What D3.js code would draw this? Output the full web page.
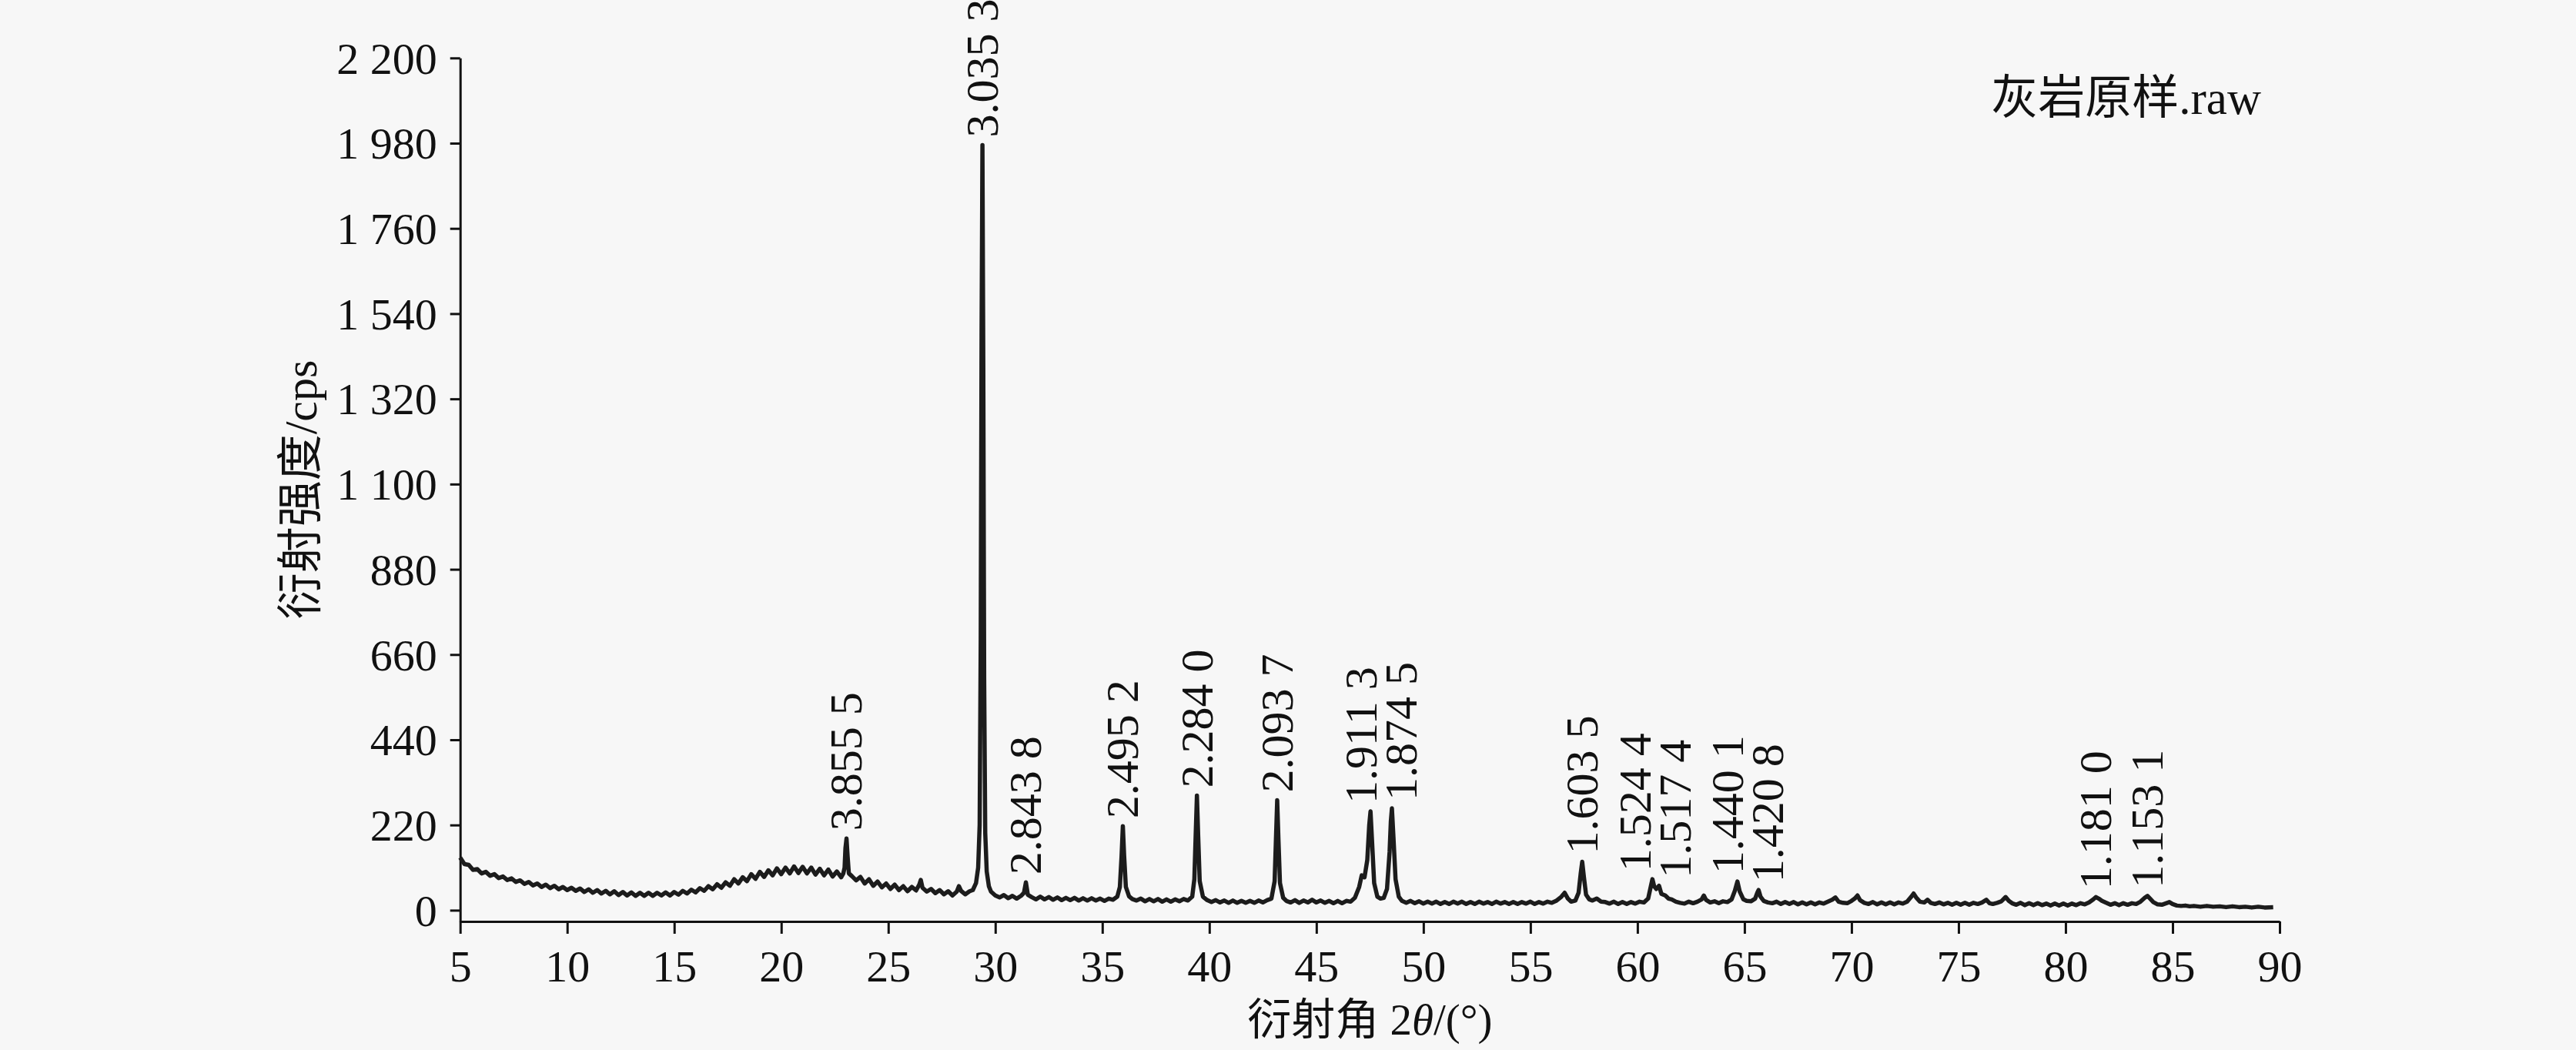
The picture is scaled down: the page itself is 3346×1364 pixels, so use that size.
<!DOCTYPE html>
<html>
<head>
<meta charset="utf-8">
<script src="https://cdn.jsdelivr.net/npm/d3@7"></script>
<style>
  body { margin: 0; background: #f7f7f7; }
  svg { display: block; }
  text { fill: #111; }
</style>
</head>
<body>
<script>
// XRD scan of the limestone sample: [2theta, counts]
var scan = [
  [5.0,136],[5.2,119],[5.4,117],[5.6,104],[5.8,106],[6.0,95],[6.2,99],[6.4,89],[6.6,93],[6.8,83],
  [7.0,87],[7.2,78],[7.4,82],[7.6,73],[7.8,77],[8.0,68],[8.2,73],[8.4,64],[8.6,69],[8.8,60],
  [9.0,66],[9.2,57],[9.4,63],[9.6,54],[9.8,60],[10.0,52],[10.2,58],[10.4,50],[10.6,56],[10.8,47],
  [11.0,54],[11.2,45],[11.4,52],[11.6,43],[11.8,50],[12.0,41],[12.2,49],[12.4,39],[12.6,47],[12.8,38],
  [13.0,46],[13.2,37],[13.4,45],[13.6,37],[13.8,45],[14.0,37],[14.2,45],[14.4,38],[14.6,46],[14.8,38],
  [15.0,47],[15.2,40],[15.4,50],[15.6,43],[15.8,53],[16.0,46],[16.2,57],[16.4,50],[16.6,62],[16.8,54],
  [17.0,67],[17.2,58],[17.4,72],[17.6,63],[17.8,80],[18.0,69],[18.2,85],[18.4,75],[18.6,93],[18.8,81],
  [19.0,99],[19.2,86],[19.4,103],[19.6,90],[19.8,108],[20.0,93],[20.2,110],[20.4,95],[20.6,113],[20.8,96],
  [21.0,112],[21.2,95],[21.4,110],[21.6,92],[21.8,107],[22.0,90],[22.2,105],[22.4,87],[22.6,100],[22.8,85],
  [22.9,95],[22.96,110],[23.0,160],[23.05,185],[23.1,140],[23.16,95],[23.3,88],[23.5,77],[23.7,86],[23.9,69],
  [24.1,80],[24.3,63],[24.5,74],[24.7,59],[24.9,69],[25.1,55],[25.3,66],[25.5,52],[25.7,62],[25.9,49],
  [26.1,60],[26.3,51],[26.45,66],[26.52,78],[26.6,58],[26.8,48],[27.0,55],[27.2,44],[27.4,52],[27.6,41],
  [27.8,49],[28.0,38],[28.2,48],[28.3,62],[28.4,50],[28.6,41],[28.8,49],[28.95,52],[29.1,70],[29.2,110],
  [29.27,220],[29.32,700],[29.36,1500],[29.40,1975],[29.44,1400],[29.48,600],[29.53,200],[29.6,100],[29.7,62],[29.8,48],
  [30.0,38],[30.2,33],[30.4,39],[30.6,31],[30.8,37],[31.0,30],[31.2,37],[31.34,45],[31.43,72],[31.52,40],
  [31.7,34],[31.9,28],[32.1,35],[32.3,28],[32.5,34],[32.7,27],[32.9,33],[33.1,26],[33.3,32],[33.5,26],
  [33.7,32],[33.9,25],[34.1,31],[34.3,25],[34.5,31],[34.7,25],[34.9,30],[35.1,24],[35.3,30],[35.5,27],
  [35.7,35],[35.82,60],[35.9,140],[35.96,217],[36.02,140],[36.1,60],[36.25,36],[36.4,29],[36.6,25],[36.8,30],
  [37.0,23],[37.2,29],[37.4,23],[37.6,29],[37.8,22],[38.0,28],[38.2,22],[38.4,28],[38.6,23],[38.8,29],
  [39.0,25],[39.2,35],[39.3,80],[39.36,190],[39.42,296],[39.48,190],[39.55,75],[39.7,35],[39.9,26],[40.1,21],
  [40.3,26],[40.5,20],[40.7,25],[40.9,19],[41.1,25],[41.3,19],[41.5,24],[41.7,19],[41.9,24],[42.1,19],
  [42.3,25],[42.5,20],[42.7,26],[42.9,30],[43.05,75],[43.11,180],[43.17,284],[43.23,180],[43.3,70],[43.45,32],
  [43.6,24],[43.8,20],[44.0,26],[44.2,19],[44.4,25],[44.6,20],[44.8,27],[45.0,20],[45.2,25],[45.4,19],
  [45.6,24],[45.8,18],[46.0,24],[46.2,18],[46.4,24],[46.6,22],[46.8,32],[47.0,60],[47.12,90],[47.25,85],
  [47.38,130],[47.47,220],[47.53,255],[47.6,180],[47.7,70],[47.85,35],[48.0,30],[48.15,32],[48.3,55],[48.42,150],
  [48.48,230],[48.53,263],[48.6,190],[48.7,80],[48.85,35],[49.0,24],[49.2,19],[49.4,24],[49.6,18],[49.8,23],
  [50.0,17],[50.2,22],[50.4,17],[50.6,22],[50.8,16],[51.0,21],[51.2,16],[51.4,22],[51.6,17],[51.8,22],
  [52.0,16],[52.2,21],[52.4,16],[52.6,22],[52.8,17],[53.0,21],[53.2,16],[53.4,22],[53.6,17],[53.8,21],
  [54.0,16],[54.2,21],[54.4,16],[54.6,21],[54.8,17],[55.0,22],[55.2,16],[55.4,21],[55.6,17],[55.8,22],
  [56.0,19],[56.2,24],[56.45,35],[56.6,45],[56.75,30],[56.9,22],[57.1,25],[57.25,45],[57.35,95],[57.42,125],
  [57.5,85],[57.6,40],[57.75,28],[57.9,25],[58.1,30],[58.3,22],[58.5,21],[58.7,17],[58.9,22],[59.1,16],
  [59.3,21],[59.5,16],[59.7,21],[59.9,17],[60.1,22],[60.3,20],[60.5,30],[60.62,60],[60.7,80],[60.78,62],
  [60.88,55],[61.01,63],[61.12,42],[61.3,38],[61.45,30],[61.6,28],[61.8,22],[62.0,19],[62.2,17],[62.4,22],
  [62.6,18],[62.8,22],[63.0,28],[63.1,38],[63.2,27],[63.4,20],[63.6,23],[63.8,18],[64.0,23],[64.2,21],
  [64.4,28],[64.55,50],[64.67,74],[64.78,48],[64.95,28],[65.1,24],[65.3,23],[65.5,30],[65.6,45],[65.66,52],
  [65.75,35],[65.9,24],[66.1,20],[66.3,18],[66.5,22],[66.7,16],[66.9,21],[67.1,16],[67.3,21],[67.5,15],
  [67.7,20],[67.9,15],[68.1,20],[68.3,15],[68.5,20],[68.7,17],[68.9,22],[69.1,27],[69.25,33],[69.4,22],
  [69.6,19],[69.8,18],[70.0,24],[70.15,30],[70.28,38],[70.4,26],[70.6,19],[70.8,16],[71.0,21],[71.2,15],
  [71.4,20],[71.6,15],[71.8,20],[72.0,15],[72.2,20],[72.4,17],[72.6,22],[72.78,34],[72.9,43],[73.02,33],
  [73.2,22],[73.4,20],[73.55,27],[73.7,19],[73.9,16],[74.1,20],[74.3,15],[74.5,19],[74.7,14],[74.9,19],
  [75.1,14],[75.3,19],[75.5,14],[75.7,19],[75.9,16],[76.1,20],[76.3,27],[76.45,18],[76.6,16],[76.8,19],
  [77.0,23],[77.2,34],[77.35,24],[77.5,18],[77.7,14],[77.9,19],[78.1,13],[78.3,18],[78.5,13],[78.7,18],
  [78.9,13],[79.1,17],[79.3,12],[79.5,17],[79.7,12],[79.9,17],[80.1,12],[80.3,17],[80.5,13],[80.7,18],
  [80.9,15],[81.1,20],[81.3,28],[81.42,34],[81.55,30],[81.7,24],[81.9,19],[82.1,14],[82.3,18],[82.5,13],
  [82.7,18],[82.9,14],[83.1,18],[83.3,16],[83.5,22],[83.7,32],[83.83,37],[83.95,30],[84.1,21],[84.3,15],
  [84.5,14],[84.7,18],[84.85,21],[85.0,16],[85.2,12],[85.4,11],[85.6,12],[85.8,10],[86.0,11],[86.3,9],
  [86.6,11],[86.9,9],[87.2,10],[87.5,8],[87.8,10],[88.1,8],[88.4,9],[88.7,7],[89.0,9],[89.3,7],[89.7,8]
];

// marked reflections: d-spacing label and its 2theta
var peakLabels = ["3.855 5","3.035 3","2.843 8","2.495 2","2.284 0","2.093 7","1.911 3","1.874 5",
                  "1.603 5","1.524 4","1.517 4","1.440 1","1.420 8","1.181 0","1.153 1"];
var peakAngles = [23.05, 29.40, 31.43, 35.96, 39.42, 43.17, 47.53, 48.53,
                  57.42, 60.70, 61.01, 64.67, 65.66, 81.42, 83.83];

var xTicks = d3.range(5, 91, 5);
var yTicks = d3.range(0, 2201, 220);

var sampleName = "灰岩原样.raw";
var yTitle = "衍射强度/cps";

var width = 3346, height = 1364;
var serif = "'Liberation Serif', 'Times New Roman', 'Noto Sans CJK SC', serif";

var x = d3.scaleLinear().domain([5, 90]).range([597.7, 2961]);
var y = d3.scaleLinear().domain([-29, 2200]).range([1197, 75.3]);

var svg = d3.select('body').append('svg')
  .attr('width', width)
  .attr('height', height)
  .style('font-family', serif);

// axes
var xAxis = svg.append('g')
  .attr('transform', 'translate(0,' + y(-29) + ')')
  .call(d3.axisBottom(x).tickValues(xTicks).tickSize(16).tickSizeOuter(0));

xAxis.selectAll('text')
  .attr('y', 78).attr('dy', null)
  .style('font-size', '58px');

var yAxis = svg.append('g')
  .attr('transform', 'translate(' + x(5) + ',0)')
  .call(d3.axisLeft(y).tickValues(yTicks).tickSize(13).tickSizeOuter(0).tickPadding(17)
    .tickFormat(function(d){ return d3.format(',')(d).replace(',', ' ') }));

yAxis.selectAll('text')
  .attr('dy', '0.34em')
  .style('font-size', '58px');

svg.selectAll('.domain, .tick line')
  .attr('stroke', '#111')
  .attr('stroke-width', 3);
svg.selectAll('.tick text').attr('fill', '#111').style('font-family', serif);

// the scan
var line = d3.line()
  .x(function(d){ return x(d[0]) })
  .y(function(d){ return y(d[1]) });

svg.append('path')
  .datum(scan)
  .attr('d', line)
  .attr('fill', 'none')
  .attr('stroke', '#1c1c1c')
  .attr('stroke-width', 5.5)
  .attr('stroke-linejoin', 'round');

// peak labels, sitting on top of each peak, nudged apart where they crowd
var labels = peakAngles.map(function(a, i){
  var near = scan.filter(function(d){ return Math.abs(d[0] - a) < 0.08 });
  var top = d3.max(near, function(d){ return d[1] });
  return { text: peakLabels[i], lx: x(a), py: y(top) };
});
var minGap = 52;
for (var it = 0; it < 20; it++) {
  for (var i = 1; i < labels.length; i++) {
    var gap = labels[i].lx - labels[i-1].lx;
    if (gap < minGap) {
      var push = (minGap - gap) / 2;
      labels[i-1].lx -= push;
      labels[i].lx += push;
    }
  }
}

svg.selectAll('.peak')
  .data(labels)
  .enter().append('text')
    .attr('class', 'peak')
    .attr('transform', function(d){ return 'translate(' + d.lx + ',' + (d.py - 10) + ') rotate(-90)' })
    .attr('dy', '0.33em')
    .style('font-size', '60px')
    .text(function(d){ return d.text });

// sample name, top right
svg.append('text')
  .attr('x', 2937).attr('y', 148)
  .attr('text-anchor', 'end')
  .style('font-size', '61px')
  .text(sampleName);

// axis titles
var xt = svg.append('text')
  .attr('x', (x(5) + x(90)) / 2).attr('y', 1344)
  .attr('text-anchor', 'middle')
  .style('font-size', '57px');
xt.append('tspan').text('衍射角 2');
xt.append('tspan').style('font-style', 'italic').text('θ');
xt.append('tspan').text('/(°)');

svg.append('text')
  .attr('transform', 'translate(390,636) rotate(-90)')
  .attr('text-anchor', 'middle')
  .attr('dy', '0.35em')
  .style('font-size', '60px')
  .text(yTitle);
</script>
</body>
</html>
